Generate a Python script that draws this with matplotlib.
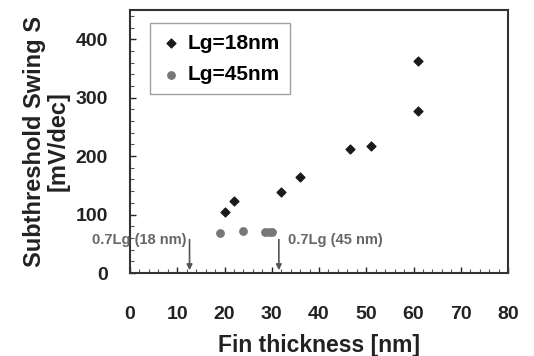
import matplotlib.pyplot as plt
from matplotlib.ticker import MultipleLocator

plt.rcParams['font.family'] = ['Liberation Sans', 'DejaVu Sans']

# Lg = 18 nm
fin18 = [20, 22, 32, 36, 46.5, 51, 61, 61]
ss18 = [104, 123, 138, 165, 212, 218, 363, 278]
# Lg = 45 nm
fin45 = [19, 24, 28.5, 29.5, 30]
ss45 = [69, 72, 70, 70, 70]

xticks = [0, 10, 20, 30, 40, 50, 60, 70, 80]
yticks = [0, 100, 200, 300, 400]

fig = plt.figure(figsize=(5.34, 3.56), dpi=100)
ax = fig.add_axes([130 / 534, 1 - 273 / 356, 378 / 534, 263 / 356])

ax.scatter(fin18, ss18, marker='D', s=20, color='#1a1a1a', label='Lg=18nm', zorder=3)
ax.scatter(fin45, ss45, marker='o', s=28, color='#777777', label='Lg=45nm', zorder=3)

# 0.7Lg markers
for xv, txt, side in [(0.7 * 18, '0.7Lg (18 nm)', 'right'), (0.7 * 45, '0.7Lg (45 nm)', 'left')]:
    ax.annotate('', xy=(xv, 0), xytext=(xv, 62),
                arrowprops=dict(arrowstyle='-|>', color='#555555', lw=1.2, mutation_scale=8))
    dx = -0.6 if side == 'right' else 2.0
    ax.text(xv + dx, 57, txt, ha=side, va='center', fontsize=10.5, fontweight='bold', color='#666666')

ax.set_xlim(0, 80)
ax.set_ylim(0, 450)
ax.set_xticks(xticks)
ax.set_yticks(yticks)
ax.xaxis.set_minor_locator(MultipleLocator(2))
ax.yaxis.set_minor_locator(MultipleLocator(20))
ax.tick_params(which='major', direction='in', length=4, width=1, labelsize=14, colors='#222222')
ax.tick_params(axis='x', which='major', pad=24)
ax.tick_params(axis='y', which='major', pad=16)
ax.tick_params(which='minor', direction='in', length=3, width=0.8, colors='#555555')
for lab in ax.get_xticklabels() + ax.get_yticklabels():
    lab.set_fontweight('bold')

for sp in ax.spines.values():
    sp.set_linewidth(1.5)
    sp.set_color('#333333')

ax.set_xlabel('Fin thickness [nm]', fontsize=16.5, fontweight='bold', color='#222222', labelpad=8)
ax.set_ylabel('Subthreshold Swing S\n[mV/dec]', fontsize=17, fontweight='bold', color='#222222',
              labelpad=4, linespacing=1.05)

leg = ax.legend(loc='upper left', bbox_to_anchor=(0.053, 0.95), borderaxespad=0, handletextpad=0.3,
                handlelength=1.0, borderpad=0.5, labelspacing=0.6, fancybox=False,
                prop={'weight': 'bold', 'size': 15})
leg.get_frame().set_edgecolor('#888888')
leg.get_frame().set_linewidth(1.0)

fig.savefig('out.png', dpi=100)
